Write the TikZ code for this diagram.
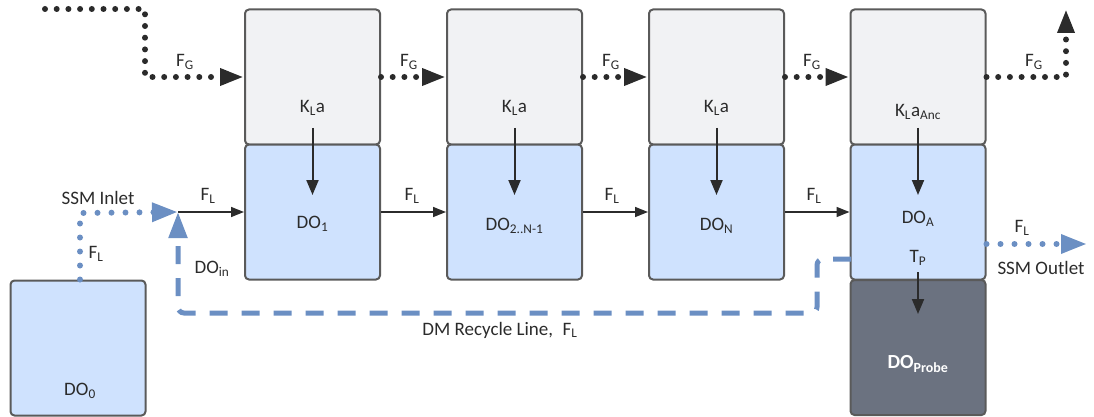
\documentclass[tikz,border=0pt]{standalone}
\usepackage{fontspec}
\setmainfont{Carlito}
\usetikzlibrary{arrows.meta}
\newcommand{\sbs}[1]{\textsubscript{#1}}
\definecolor{gasfill}{HTML}{F1F2F4}
\definecolor{liqfill}{HTML}{CFE2FE}
\definecolor{probefill}{HTML}{6B7280}
\definecolor{boxline}{HTML}{5A5A5A}
\definecolor{flowblue}{HTML}{6B8FC3}
\definecolor{ink}{HTML}{2B2B2B}
\tikzset{
  box/.style={draw=boxline, line width=2pt, rounded corners=4pt, minimum width=135pt, minimum height=135pt, inner sep=0pt},
  gasbox/.style={box, fill=gasfill},
  liqbox/.style={box, fill=liqfill},
  probebox/.style={box, fill=probefill},
  lbl/.style={font=\fontsize{19}{21}\selectfont, text=ink, inner sep=1pt},
  gasflow/.style={draw=ink, line width=6pt, line cap=round, dash pattern=on 0pt off 11.7pt, -{Triangle[length=24pt,width=16pt,line cap=butt]}},
  liqflow/.style={draw=ink, line width=1.5pt, -{Triangle[length=13pt,width=10pt]}},
  kflow/.style={draw=ink, line width=2pt, -{Triangle[length=15pt,width=12pt]}},
  bluedot/.style={draw=flowblue, line width=6pt, line cap=round, dash pattern=on 0pt off 14pt, -{Triangle[length=26pt,width=18pt,line cap=butt]}},
  bluedash/.style={draw=flowblue, line width=5pt, dash pattern=on 18pt off 14pt, rounded corners=6pt, -{Triangle[length=26pt,width=18pt]}},
}
\begin{document}
\begin{tikzpicture}[x=1pt,y=-1pt]
\useasboundingbox (0,0) rectangle (1094,417);
% boxes
\node[gasbox] (g1) at (312.5,77) {};
\node[gasbox] (g2) at (514.5,77) {};
\node[gasbox] (g3) at (716.5,77) {};
\node[gasbox] (g4) at (918,77) {};
\node[liqbox] (l1) at (312.5,212) {};
\node[liqbox] (l2) at (514.5,212) {};
\node[liqbox] (l3) at (716.5,212) {};
\node[liqbox] (l4) at (918,212) {};
\node[probebox] (pr) at (918,347.5) {};
\node[liqbox] (l0) at (78,348) {};
% texts in boxes
\node[lbl] (k1) at (312.5,108) {K\sbs{L}a};
\node[lbl] (k2) at (514.5,108) {K\sbs{L}a};
\node[lbl] (k3) at (716.5,108) {K\sbs{L}a};
\node[lbl] (k4) at (918,112) {K\sbs{L}a\sbs{Anc}};
\node[lbl] (d1) at (312.5,224) {DO\sbs{1}};
\node[lbl] (d2) at (514.5,226) {DO\sbs{2..N-1}};
\node[lbl] (d3) at (716.5,226) {DO\sbs{N}};
\node[lbl] (d4) at (918,219) {DO\sbs{A}};
\node[lbl] (tp) at (918,258) {T\sbs{P}};
\node[lbl, text=white, font=\fontsize{20}{22}\selectfont\bfseries] (dp) at (918,364) {DO\sbs{Probe}};
\node[lbl] (d0) at (80,391) {DO\sbs{0}};
% K_La arrows
\draw[kflow] (312.5,128) -- (312.5,195);
\draw[kflow] (514.5,128) -- (514.5,195);
\draw[kflow] (716.5,128) -- (716.5,195);
\draw[kflow] (918,128) -- (918,195);
\draw[kflow] (918,272) -- (918,314);
% gas flow
\coordinate (gin) at (45,9);
\coordinate (gout) at (1066,9);
\draw[gasflow] (gin) -- (145,9) -- (145,77) -- (g1.west);
\draw[gasflow] (g1.east) -- (g2.west);
\draw[gasflow] (g2.east) -- (g3.west);
\draw[gasflow] (g3.east) -- (g4.west);
\draw[gasflow] (g4.east) -- (1066,77) -- (gout);
\node[lbl] (fg0) at (185,62) {F\sbs{G}};
\node[lbl] (fg1) at (409,62) {F\sbs{G}};
\node[lbl] (fg2) at (611,62) {F\sbs{G}};
\node[lbl] (fg3) at (812,62) {F\sbs{G}};
\node[lbl] (fg4) at (1034,62) {F\sbs{G}};
% liquid flow
\coordinate (J) at (178,212);
\draw[liqflow] (J) -- (l1.west);
\draw[liqflow] (l1.east) -- (l2.west);
\draw[liqflow] (l2.east) -- (l3.west);
\draw[liqflow] (l3.east) -- (l4.west);
\node[lbl] (fl1) at (208,196) {F\sbs{L}};
\node[lbl] (fl2) at (412,196) {F\sbs{L}};
\node[lbl] (fl3) at (612,196) {F\sbs{L}};
\node[lbl] (fl4) at (814,196) {F\sbs{L}};
% SSM inlet
\draw[bluedot] (l0.north -| 80,0) -- (80,213) -- (J);
\node[lbl] (inl) at (98,198) {SSM Inlet};
\node[lbl] (fl0) at (96,254) {F\sbs{L}};
% recycle
\coordinate (rc) at (851,259);
\draw[bluedash] (rc) -- (817,259) -- (817,313) -- (178,313) -- (J);
\node[lbl] (doin) at (212,269) {DO\sbs{in}};
\node[lbl] (rcl) at (500,330) {DM Recycle Line,\; F\sbs{L}};
% outlet
\coordinate (outl) at (1087,244);
\draw[bluedot] (l4.east |- 0,244) -- (outl);
\node[lbl] (flo) at (1022,228) {F\sbs{L}};
\node[lbl] (sso) at (1041,268) {SSM Outlet};
\end{tikzpicture}
\end{document}
